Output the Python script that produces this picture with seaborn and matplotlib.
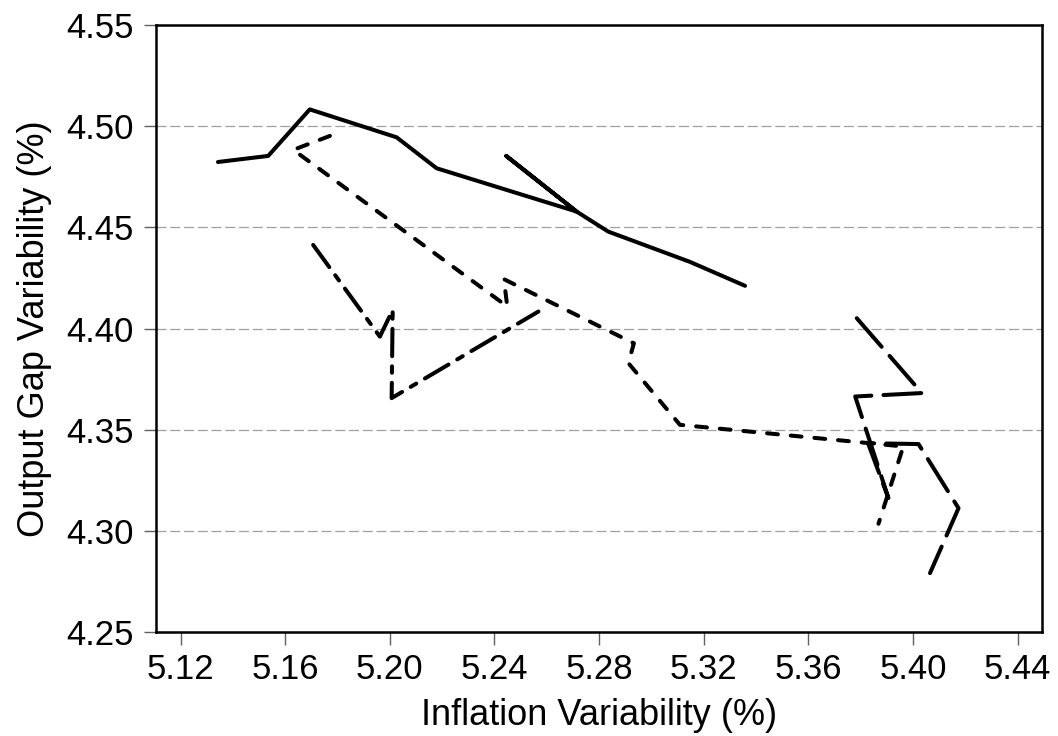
import numpy as np
import pandas as pd
import matplotlib
matplotlib.use("Agg")
import matplotlib.pyplot as plt
import seaborn as sns

# ─── Data ────────────────────────────────────────────────────────────────────
solid_x = [5.1343, 5.1535, 5.1694, 5.2026, 5.2179, 5.2714, 5.2445, 5.2714, 5.2835, 5.3148, 5.3358]
solid_y = [4.4823, 4.4853, 4.5083, 4.4945, 4.4792, 4.4578, 4.4853, 4.4578, 4.4479, 4.4329, 4.4211]

short_x = [5.1771, 5.1631, 5.2449, 5.2436, 5.2933, 5.2912, 5.3109, 5.3963, 5.3868]
short_y = [4.4952, 4.4883, 4.4109, 4.4244, 4.3927, 4.3829, 4.3524, 4.3417, 4.3035]

mixed_x = [5.1707, 5.1962, 5.2011, 5.2007, 5.2568]
mixed_y = [4.4413, 4.3960, 4.4092, 4.3656, 4.4084]

long_x = [5.3785, 5.4034, 5.3779, 5.3906, 5.3828, 5.4021, 5.4174, 5.4065]
long_y = [4.4051, 4.3681, 4.3664, 4.3162, 4.3433, 4.3429, 4.3112, 4.2791]

x_ticks = [5.12, 5.16, 5.20, 5.24, 5.28, 5.32, 5.36, 5.40, 5.44]
y_ticks = [4.25, 4.30, 4.35, 4.40, 4.45, 4.50, 4.55]

series = [
    (solid_x, solid_y, None),
    (short_x, short_y, (2.7, 3.2)),
    (mixed_x, mixed_y, (6.8, 2.5, 1.6, 2.5)),
    (long_x, long_y, (9.4, 3.0)),
]

# ─── Style ───────────────────────────────────────────────────────────────────
sns.set_style("ticks")
plt.rcParams["font.family"] = ["Liberation Sans", "DejaVu Sans"]

fig = plt.figure(figsize=(10.58, 7.36), dpi=100)
ax = fig.add_axes([0.1474, 0.1413, 0.8372, 0.8247])

for xs, ys, dash in series:
    sns.lineplot(x=xs, y=ys, sort=False, estimator=None, color="black",
                 linewidth=2.9, ax=ax)
    line = ax.lines[-1]
    line.set_solid_capstyle("round")
    if dash is not None:
        line.set_dashes(dash)
        line.set_dash_capstyle("round")

ax.set_xlim(5.1106, 5.4492)
ax.set_ylim(4.25, 4.55)
ax.set_xticks(x_ticks)
ax.set_yticks(y_ticks)
ax.set_xticklabels([f"{v:.2f}" for v in x_ticks])
ax.set_yticklabels([f"{v:.2f}" for v in y_ticks])

ax.yaxis.grid(True, color="#a0a0a0", linewidth=0.9, linestyle=(0, (8, 3)))
ax.xaxis.grid(False)
ax.set_axisbelow(True)

for side in ["left", "right", "top", "bottom"]:
    ax.spines[side].set_visible(True)
    ax.spines[side].set_color("black")
    ax.spines[side].set_linewidth(1.8)

ax.tick_params(axis="both", which="major", direction="out", length=9, width=1,
               color="#606060", labelsize=25, labelcolor="black")
ax.tick_params(axis="x", pad=6)
ax.tick_params(axis="y", pad=7)

ax.set_xlabel("Inflation Variability (%)", fontsize=26, labelpad=9, color="black")
ax.set_ylabel("Output Gap Variability (%)", fontsize=26, labelpad=10, color="black")

plt.savefig("out.png", dpi=100)
plt.close()
